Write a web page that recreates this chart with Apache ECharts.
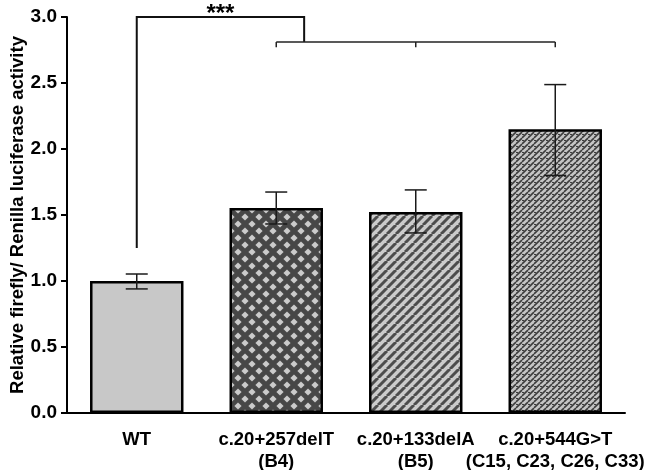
<!DOCTYPE html>
<html><head><meta charset="utf-8">
<script src="https://cdn.jsdelivr.net/npm/echarts@6/dist/echarts.min.js"></script>
<style>html,body{margin:0;padding:0;background:#fff}#c{width:650px;height:470px}</style>
</head><body><div id="c"></div>
<script>
// ---- data ----
const categories = ['WT', 'c.20+257delT\n(B4)', 'c.20+133delA\n(B5)', 'c.20+544G>T\n(C15, C23, C26, C33)'];
const meanValues = [1.0, 1.553, 1.523, 2.15];
const errLow = [0.94, 1.432, 1.364, 1.80];
const errHigh = [1.053, 1.674, 1.69, 2.488];
const yTicks = [0, 0.5, 1.0, 1.5, 2.0, 2.5, 3.0];
// significance bracket (values in data units)
const bracketTop = 3.0;
const bracketWTBottom = 1.25;
const bracketGroupY = 2.81;
const bracketGroupTickEnd = 2.77;
const bracketGroupCats = [1, 2, 3];
const bracketJoinPos = 1.2; // category position of the join
const sigLabel = '***';

// ---- patterns ----
function makeTile(w, h, draw) {
  const c = document.createElement('canvas');
  c.width = w; c.height = h;
  const ctx = c.getContext('2d');
  draw(ctx, w, h);
  return c;
}
const patDiamond = makeTile(14, 14, (ctx, w, h) => {
  ctx.fillStyle = '#474747'; ctx.fillRect(0, 0, w, h);
  ctx.fillStyle = '#cbcbcb';
  const r = 3.6;
  const pts = [[0,0],[14,0],[0,14],[14,14],[7,7]];
  pts.forEach(([x,y]) => {
    ctx.beginPath(); ctx.moveTo(x, y - r); ctx.lineTo(x + r, y); ctx.lineTo(x, y + r); ctx.lineTo(x - r, y); ctx.closePath(); ctx.fill();
  });
});
const patStripe = makeTile(9, 9, (ctx, w, h) => {
  ctx.fillStyle = '#cbcbcb'; ctx.fillRect(0, 0, w, h);
  ctx.strokeStyle = '#4d4d4d'; ctx.lineWidth = 3;
  for (let k = -1; k <= 1; k++) {
    ctx.beginPath(); ctx.moveTo(k * w, h); ctx.lineTo(k * w + w, 0); ctx.stroke();
  }
});
const patFine = makeTile(6, 6, (ctx, w, h) => {
  ctx.fillStyle = '#c4c4c4'; ctx.fillRect(0, 0, w, h);
  ctx.strokeStyle = '#3c3c3c'; ctx.lineWidth = 1.6;
  for (let k = -1; k <= 1; k++) {
    ctx.beginPath(); ctx.moveTo(k * w, h); ctx.lineTo(k * w + w, 0); ctx.stroke();
  }
  ctx.fillStyle = '#3c3c3c'; ctx.fillRect(0, 2, 2, 1);
});
const fills = [
  '#c8c8c8',
  { image: patDiamond, repeat: 'repeat' },
  { image: patStripe, repeat: 'repeat' },
  { image: patFine, repeat: 'repeat' }
];

const FONT = "'Liberation Sans', Arial, sans-serif";
const chart = echarts.init(document.getElementById('c'), null, { renderer: 'canvas' });

chart.setOption({
  animation: false,
  grid: { left: 67, right: 25, top: 17, bottom: 57, containLabel: false, outerBoundsMode: 'none' },
  xAxis: {
    type: 'category',
    data: categories,
    axisLine: { lineStyle: { color: '#000', width: 2 } },
    axisTick: { alignWithLabel: true, length: 6, lineStyle: { color: '#000', width: 2 } },
    axisLabel: { fontFamily: FONT, fontWeight: 'bold', fontSize: 18.5, color: '#000', lineHeight: 22, margin: 16, interval: 0 }
  },
  yAxis: {
    type: 'value', min: 0, max: 3, interval: 0.5,
    name: 'Relative firefly/ Renilla luciferase activity',
    nameLocation: 'middle', nameGap: 40, nameMoveOverlap: false,
    nameTextStyle: { fontFamily: FONT, fontWeight: 'bold', fontSize: 18.5, color: '#000' },
    axisLine: { show: true, lineStyle: { color: '#000', width: 2 } },
    axisTick: { show: true, length: 6, lineStyle: { color: '#000', width: 2 } },
    splitLine: { show: false },
    axisLabel: { fontFamily: FONT, fontWeight: 'bold', fontSize: 19, color: '#000', margin: 10,
      formatter: v => yTicks.includes(v) ? v.toFixed(1) : '' }
  },
  series: [
    {
      type: 'bar',
      barWidth: '67%',
      data: meanValues.map((v, i) => ({ value: v, itemStyle: { color: fills[i] } })),
      itemStyle: { borderColor: '#000', borderWidth: 2.5 },
      z: 2
    },
    {
      type: 'custom',
      z: 5,
      data: meanValues.map((v, i) => [i, errLow[i], errHigh[i]]),
      renderItem: (params, api) => {
        const i = api.value(0);
        const lo = api.coord([i, api.value(1)]);
        const hi = api.coord([i, api.value(2)]);
        const hw = 11;
        const st = { stroke: '#1a1a1a', lineWidth: 1.5 };
        return { type: 'group', children: [
          { type: 'line', shape: { x1: hi[0], y1: hi[1], x2: lo[0], y2: lo[1] }, style: st },
          { type: 'line', shape: { x1: hi[0] - hw, y1: hi[1], x2: hi[0] + hw, y2: hi[1] }, style: st },
          { type: 'line', shape: { x1: lo[0] - hw, y1: lo[1], x2: lo[0] + hw, y2: lo[1] }, style: st }
        ]};
      }
    },
    {
      type: 'custom',
      z: 6,
      clip: false,
      data: [[0]],
      renderItem: (params, api) => {
        const px = (pos, v) => {
          const a = api.coord([Math.floor(pos), v]);
          const b = api.coord([Math.floor(pos) + 1, v]);
          return [a[0] + (b[0] - a[0]) * (pos - Math.floor(pos)), a[1]];
        };
        const st = { stroke: '#111', lineWidth: 2, fill: null };
        const st2 = { stroke: '#222', lineWidth: 1.5, fill: null };
        const wtB = api.coord([0, bracketWTBottom]);
        const wtT = api.coord([0, bracketTop]);
        const jT = px(bracketJoinPos, bracketTop);
        const jB = px(bracketJoinPos, bracketGroupY);
        const gL = api.coord([bracketGroupCats[0], bracketGroupY]);
        const gR = api.coord([bracketGroupCats[bracketGroupCats.length - 1], bracketGroupY]);
        const children = [
          { type: 'polyline', shape: { points: [wtB, wtT, jT, jB] }, style: st },
          { type: 'line', shape: { x1: gL[0], y1: gL[1], x2: gR[0], y2: gR[1] }, style: st2 }
        ];
        bracketGroupCats.forEach(c => {
          const a = api.coord([c, bracketGroupY]);
          const b = api.coord([c, bracketGroupTickEnd]);
          children.push({ type: 'line', shape: { x1: a[0], y1: a[1], x2: b[0], y2: b[1] }, style: st2 });
        });
        const starX = (wtT[0] + jT[0]) / 2;
        children.push({ type: 'text', x: starX, y: wtT[1] - 15,
          style: { text: sigLabel, fontFamily: FONT, fontWeight: 'bold', fontSize: 24, fill: '#000', align: 'center', verticalAlign: 'top' } });
        return { type: 'group', children };
      }
    }
  ]
});
</script></body></html>
